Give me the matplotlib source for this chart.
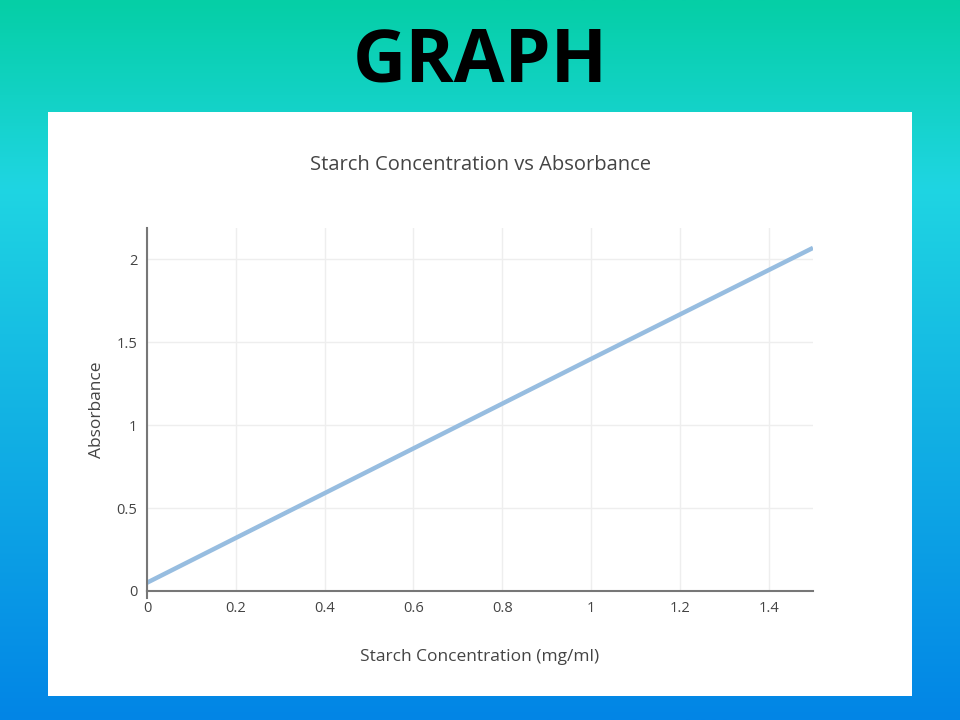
import numpy as np
import matplotlib.pyplot as plt
from matplotlib.colors import LinearSegmentedColormap
from matplotlib.patches import Rectangle

# data
conc = [0.0, 0.4, 1.0, 1.5]
absorbance = [0.05, 0.59, 1.40, 2.07]
x_ticks = [0, 0.2, 0.4, 0.6, 0.8, 1.0, 1.2, 1.4]
x_labels = ["0", "0.2", "0.4", "0.6", "0.8", "1", "1.2", "1.4"]
y_ticks = [0, 0.5, 1.0, 1.5, 2.0]
y_labels = ["0", "0.5", "1", "1.5", "2"]

plt.rcParams['font.family'] = ['Open Sans', 'DejaVu Sans']

fig = plt.figure(figsize=(9.6, 7.2), dpi=100)

# slide background gradient
bg = fig.add_axes([0, 0, 1, 1])
cmap = LinearSegmentedColormap.from_list(
    "slide", [(0, "#05cfa6"), (0.26, "#1fd5e2"), (1, "#0285e6")])
grad = np.linspace(0, 1, 256).reshape(-1, 1)
bg.imshow(grad, aspect="auto", cmap=cmap, extent=[0, 1, 0, 1], origin="upper")
bg.set_xlim(0, 1)
bg.set_ylim(0, 1)
bg.axis("off")

# white panel for the chart
bg.add_patch(Rectangle((48 / 960, 1 - 696 / 720), 864 / 960, 584 / 720,
                       facecolor="white", edgecolor="none"))

fig.text(0.5, 1 - 82 / 720, "GRAPH", ha="center", va="baseline",
         fontsize=53, fontweight="bold", color="black")

fig.text(480 / 960, 1 - 165 / 720, "Starch Concentration vs Absorbance",
         ha="center", va="center", fontsize=14.5, color="#444444")

ax = fig.add_axes([147 / 960, 1 - 591 / 720, 666 / 960, 363 / 720])
ax.plot(conc, absorbance, color="#97bde0", linewidth=3.2, solid_capstyle="butt")
ax.set_xlim(0, 1.5)
ax.set_ylim(0, 2.19)
ax.set_xticks(x_ticks)
ax.set_xticklabels(x_labels)
ax.set_yticks(y_ticks)
ax.set_yticklabels(y_labels)
ax.grid(True, color="#eeeeee", linewidth=1)
ax.set_axisbelow(True)
for s in ["top", "right"]:
    ax.spines[s].set_visible(False)
ax.spines["left"].set_color("#777777")
ax.spines["bottom"].set_color("#777777")
ax.spines["left"].set_linewidth(1.5)
ax.spines["bottom"].set_linewidth(1.5)
ax.tick_params(length=0, labelsize=10.5, labelcolor="#444444", pad=7)
ax.plot([0, 0], [0, -0.04], color="#777777", linewidth=1.5, clip_on=False)
ax.set_xlabel("Starch Concentration (mg/ml)", fontsize=12.5, color="#444444", labelpad=24)
ax.set_ylabel("Absorbance", fontsize=12.5, color="#444444", labelpad=8)

fig.savefig("out.png", dpi=100)
